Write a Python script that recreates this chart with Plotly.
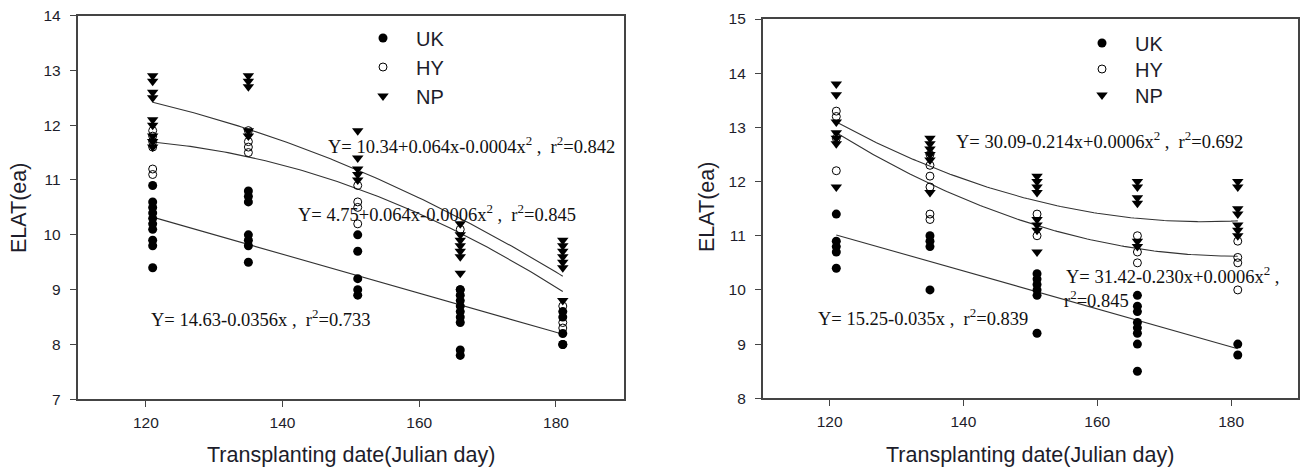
import numpy as np
import plotly.graph_objects as go

W, H = 1302, 469

# Transplanting dates (Julian day)
days = [121, 135, 151, 166, 181]

# ---- Left panel: ELAT per cultivar at each transplanting date ----
left_uk = {
    121: [10.9, 10.6, 10.5, 10.4, 10.3, 10.2, 10.1, 9.9, 9.8, 9.4],
    135: [10.8, 10.7, 10.6, 10.0, 9.9, 9.8, 9.5],
    151: [10.0, 9.7, 9.2, 9.0, 8.9],
    166: [9.0, 8.9, 8.8, 8.7, 8.6, 8.5, 8.4, 7.9, 7.8],
    181: [8.6, 8.5, 8.2, 8.0, 8.0],
}
left_hy = {
    121: [11.9, 11.8, 11.7, 11.6, 11.2, 11.1],
    135: [11.9, 11.7, 11.6, 11.5],
    151: [10.9, 10.6, 10.5, 10.2],
    166: [10.1, 9.0],
    181: [8.7, 8.4, 8.3],
}
left_np = {
    121: [12.9, 12.8, 12.6, 12.5, 12.1, 12.0, 11.8, 11.7, 11.6],
    135: [12.9, 12.8, 12.7, 11.9, 11.8],
    151: [11.9, 11.4, 11.2, 11.1, 11.0],
    166: [10.2, 10.0, 9.9, 9.8, 9.7, 9.6, 9.3],
    181: [9.9, 9.8, 9.7, 9.6, 9.5, 9.4, 8.8],
}

# ---- Right panel ----
right_uk = {
    121: [11.4, 10.9, 10.8, 10.7, 10.4],
    135: [11.0, 10.9, 10.8, 10.0],
    151: [10.3, 10.2, 10.1, 10.0, 9.9, 9.2],
    166: [9.9, 9.7, 9.6, 9.4, 9.3, 9.2, 9.0, 8.5],
    181: [9.0, 8.8],
}
right_hy = {
    121: [13.3, 13.2, 12.8, 12.2],
    135: [12.5, 12.3, 12.1, 11.9, 11.4, 11.3],
    151: [11.4, 11.0],
    166: [11.0, 10.7, 10.5],
    181: [10.9, 10.6, 10.5, 10.0],
}
right_np = {
    121: [13.8, 13.6, 13.1, 12.9, 12.8, 12.7, 11.9],
    135: [12.8, 12.7, 12.6, 12.5, 12.4, 11.8],
    151: [12.1, 12.0, 11.9, 11.8, 11.3, 11.2, 11.1, 10.7],
    166: [12.0, 11.9, 11.7, 11.6, 10.9, 10.8],
    181: [12.0, 11.9, 11.5, 11.4, 11.2, 11.1, 11.0],
}

# Regression coefficients (c0, c1, c2): Y = c0 + c1*x + c2*x^2
left_fit = {
    "UK": (14.63, -0.0356, 0.0),
    "HY": (4.75, 0.1261, -0.000568),
    "NP": (10.34, 0.064, -0.000387),
}
right_fit = {
    "UK": (15.25, -0.035, 0.0),
    "HY": (31.42, -0.230, 0.0006359),
    "NP": (30.09, -0.214, 0.000608),
}

# Equation labels
left_eqs = [
    "Y= 10.34+0.064x-0.0004x<sup>2</sup> ,  r<sup>2</sup>=0.842",
    "Y= 4.75+0.064x-0.0006x<sup>2</sup> ,  r<sup>2</sup>=0.845",
    "Y= 14.63-0.0356x ,  r<sup>2</sup>=0.733",
]
right_eqs = [
    "Y= 30.09-0.214x+0.0006x<sup>2</sup> ,  r<sup>2</sup>=0.692",
    "Y= 31.42-0.230x+0.0006x<sup>2</sup> ,",
    "r<sup>2</sup>=0.845",
    "Y= 15.25-0.035x ,  r<sup>2</sup>=0.839",
]

cultivars = ["UK", "HY", "NP"]
x_title = "Transplanting date(Julian day)"
y_title = "ELAT(ea)"

SANS = "Arial, Liberation Sans, sans-serif"
SERIF = "Times New Roman, Liberation Serif, serif"
INK = "#1d1d2b"

marker_style = {
    "UK": dict(symbol="circle", size=9, color="black", line=dict(width=0)),
    "HY": dict(symbol="circle-open", size=8, color="black", line=dict(width=1)),
    "NP": dict(symbol="triangle-down", size=10, color="black", line=dict(width=0)),
}


def flatten(d):
    xs, ys = [], []
    for day in days:
        for v in d.get(day, []):
            xs.append(day)
            ys.append(v)
    return xs, ys


def px_x(p):
    return p / W


def px_y(p):
    return 1 - p / H


fig = go.Figure()

# each legend entry gets its own legend box: (left px, centre px)
legend_slots = {
    ("x", "UK"): ("legend", 350, 38),
    ("x", "HY"): ("legend2", 350, 67),
    ("x", "NP"): ("legend3", 350, 96),
    ("x2", "UK"): ("legend4", 1069, 43),
    ("x2", "HY"): ("legend5", 1069, 69),
    ("x2", "NP"): ("legend6", 1069, 95),
}

panels = [
    ("x", "y", {"UK": left_uk, "HY": left_hy, "NP": left_np}, left_fit),
    ("x2", "y2", {"UK": right_uk, "HY": right_hy, "NP": right_np}, right_fit),
]

for xa, ya, series, fits in panels:
    # regression curves
    xs_fit = np.linspace(min(days), max(days), 121)
    for name in ["UK", "HY", "NP"]:
        c0, c1, c2 = fits[name]
        fig.add_trace(go.Scatter(
            x=xs_fit, y=c0 + c1 * xs_fit + c2 * xs_fit ** 2,
            mode="lines", line=dict(color="#333333", width=1.1),
            xaxis=xa, yaxis=ya, showlegend=False, hoverinfo="skip",
        ))
    # observations
    for name in cultivars:
        xs, ys = flatten(series[name])
        fig.add_trace(go.Scatter(
            x=xs, y=ys, mode="markers", name=name,
            marker=marker_style[name], xaxis=xa, yaxis=ya,
            legend=legend_slots[(xa, name)][0],
        ))

# plot-area boxes in pixels
L_box = (77.5, 624.3, 15.5, 399.3)
R_box = (762.7, 1298.0, 19.0, 398.3)

axis_common = dict(
    showline=True, linecolor="#444444", linewidth=1.5, mirror=True,
    ticks="outside", ticklen=6, tickwidth=1.3, tickcolor="#444444",
    showgrid=False, zeroline=False, automargin=False,
    tickfont=dict(family=SANS, size=15.5, color=INK),
)

legend_layout = {}
for (leg, lx, ly) in legend_slots.values():
    legend_layout[leg] = dict(
        x=px_x(lx), y=px_y(ly), xanchor="left", yanchor="middle",
        bgcolor="rgba(0,0,0,0)", borderwidth=0,
        font=dict(family=SANS, size=20, color=INK), itemwidth=56,
    )

fig.update_layout(
    width=W, height=H,
    margin=dict(l=0, r=0, t=0, b=0, autoexpand=False),
    paper_bgcolor="white", plot_bgcolor="white",
    xaxis=dict(domain=[px_x(L_box[0]), px_x(L_box[1])], range=[110, 190],
               tickvals=[120, 140, 160, 180], anchor="y",
               ticklabelstandoff=2, **axis_common),
    yaxis=dict(domain=[px_y(L_box[3]), px_y(L_box[2])], range=[7, 14],
               dtick=1, anchor="x", ticklabelstandoff=6, **axis_common),
    xaxis2=dict(domain=[px_x(R_box[0]), px_x(R_box[1])], range=[110, 190],
                tickvals=[120, 140, 160, 180], anchor="y2",
                ticklabelstandoff=2, **axis_common),
    yaxis2=dict(domain=[px_y(R_box[3]), px_y(R_box[2])], range=[8, 15],
                dtick=1, anchor="x2", ticklabelstandoff=6, **axis_common),
    showlegend=True,
    **legend_layout,
)

ann = []
# axis titles
for box in (L_box, R_box):
    ann.append(dict(text=x_title, x=px_x((box[0] + box[1]) / 2), y=px_y(455),
                    xref="paper", yref="paper", showarrow=False,
                    font=dict(family=SANS, size=21.5, color=INK),
                    xanchor="center", yanchor="middle"))
ann.append(dict(text=y_title, x=px_x(19), y=px_y(208), xref="paper", yref="paper",
                showarrow=False, textangle=-90,
                font=dict(family=SANS, size=21.5, color=INK),
                xanchor="center", yanchor="middle"))
ann.append(dict(text=y_title, x=px_x(707), y=px_y(207), xref="paper", yref="paper",
                showarrow=False, textangle=-90,
                font=dict(family=SANS, size=21.5, color=INK),
                xanchor="center", yanchor="middle"))

# equation labels (pixel anchors: left edge, vertical middle)
eq_pos = [
    (left_eqs[0], 326, 145),
    (left_eqs[1], 296, 213),
    (left_eqs[2], 149, 318),
    (right_eqs[0], 954, 140),
    (right_eqs[1], 1064, 275),
    (right_eqs[2], 1062, 299),
    (right_eqs[3], 816, 317),
]
for txt, px, py in eq_pos:
    ann.append(dict(text=txt, x=px_x(px), y=px_y(py), xref="paper", yref="paper",
                    showarrow=False, xanchor="left", yanchor="middle",
                    font=dict(family=SERIF, size=18.5, color="#111111")))

fig.update_layout(annotations=ann)

fig.write_html("out.html")
